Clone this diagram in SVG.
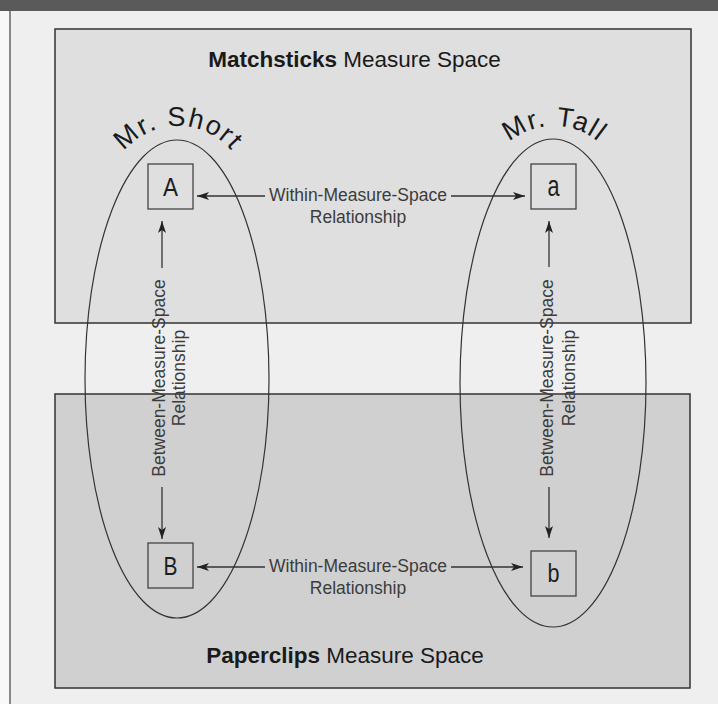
<svg xmlns="http://www.w3.org/2000/svg" width="718" height="704" viewBox="0 0 718 704">
<defs>
<style>
.bg{fill:#efefef}
.space{stroke:#333;stroke-width:1.5}
.ell{fill:none;stroke:#333;stroke-width:1.2}
.box{fill:none;stroke:#444;stroke-width:1.3}
.lbl{font-family:"Liberation Sans",Arial,sans-serif;fill:#1e1e1e;text-anchor:middle}
.rel{font-family:"Liberation Sans",Arial,sans-serif;font-size:17.5px;fill:#3c3c3c;text-anchor:middle}
.title{font-family:"Liberation Sans",Arial,sans-serif;font-size:22.5px;fill:#1a1a1a;text-anchor:middle}
.who{font-family:"Liberation Sans",Arial,sans-serif;font-size:27px;fill:#1a1a1a;letter-spacing:1.5px}
.con{stroke:#333;stroke-width:1.3;fill:none}
</style>
<marker id="ah" viewBox="0 0 12 8" refX="12" refY="4" markerWidth="12" markerHeight="8" markerUnits="userSpaceOnUse" orient="auto-start-reverse">
<path d="M0,0 L12,4 L0,8 L3,4 z" fill="#222"/>
</marker>
<path id="arcShort" d="M108,196 A70,70 0 0 1 248,196"/>
<path id="arcTall" d="M484,196 A70,70 0 0 1 624,196"/>
</defs>
<rect x="0" y="0" width="718" height="704" fill="#f9f9f9"/>
<rect class="bg" x="10" y="11" width="708" height="693"/>
<rect x="0" y="0" width="718" height="11" fill="#5a5a5a"/>
<line x1="10" y1="11" x2="10" y2="704" stroke="#888" stroke-width="2"/>

<g id="matchsticks-space">
<rect class="space" x="55" y="29" width="636" height="294" fill="#dfdfdf"/>
<text class="title" x="354.5" y="67"><tspan font-weight="bold">Matchsticks</tspan> Measure Space</text>
</g>
<g id="paperclips-space">
<rect class="space" x="55" y="394" width="635" height="294" fill="#d0d0d0"/>
<text class="title" x="345" y="663"><tspan font-weight="bold">Paperclips</tspan> Measure Space</text>
</g>

<g id="mr-short">
<ellipse class="ell" cx="177" cy="379" rx="92" ry="239"/>
<text class="who"><textPath href="#arcShort" startOffset="50%" text-anchor="middle">Mr. Short</textPath></text>
</g>
<g id="mr-tall">
<ellipse class="ell" cx="553" cy="383" rx="93" ry="244"/>
<text class="who"><textPath href="#arcTall" startOffset="50%" text-anchor="middle">Mr. Tall</textPath></text>
</g>

<g id="node-A">
<rect class="box" x="148" y="164" width="45" height="45"/>
<text class="lbl" x="170.5" y="196" font-size="26" textLength="15" lengthAdjust="spacingAndGlyphs">A</text>
</g>
<g id="node-a">
<rect class="box" x="531" y="164" width="45" height="45"/>
<text class="lbl" x="553.5" y="196" font-size="30" textLength="12" lengthAdjust="spacingAndGlyphs">a</text>
</g>
<g id="node-B">
<rect class="box" x="148" y="543" width="45" height="45"/>
<text class="lbl" x="170.5" y="575" font-size="25" textLength="14" lengthAdjust="spacingAndGlyphs">B</text>
</g>
<g id="node-b">
<rect class="box" x="531" y="551" width="45" height="45"/>
<text class="lbl" x="553.5" y="582" font-size="26" textLength="12" lengthAdjust="spacingAndGlyphs">b</text>
</g>

<g id="connectors">
<line class="con" x1="197" y1="196" x2="265" y2="196" marker-start="url(#ah)"/>
<line class="con" x1="451" y1="196" x2="525" y2="196" marker-end="url(#ah)"/>
<text class="rel" x="358" y="201">Within-Measure-Space</text>
<text class="rel" x="358" y="223">Relationship</text>

<line class="con" x1="197" y1="567" x2="265" y2="567" marker-start="url(#ah)"/>
<line class="con" x1="451" y1="567" x2="523" y2="567" marker-end="url(#ah)"/>
<text class="rel" x="358" y="572">Within-Measure-Space</text>
<text class="rel" x="358" y="594">Relationship</text>

<line class="con" x1="162" y1="221" x2="162" y2="268" marker-start="url(#ah)"/>
<line class="con" x1="162" y1="487" x2="162" y2="539" marker-end="url(#ah)"/>
<text class="rel" transform="translate(165,378) rotate(-90)">Between-Measure-Space</text>
<text class="rel" transform="translate(185,378) rotate(-90)">Relationship</text>

<line class="con" x1="549" y1="221" x2="549" y2="267" marker-start="url(#ah)"/>
<line class="con" x1="549" y1="487" x2="549" y2="538" marker-end="url(#ah)"/>
<text class="rel" transform="translate(553,378) rotate(-90)">Between-Measure-Space</text>
<text class="rel" transform="translate(575,378) rotate(-90)">Relationship</text>
</g>
</svg>
